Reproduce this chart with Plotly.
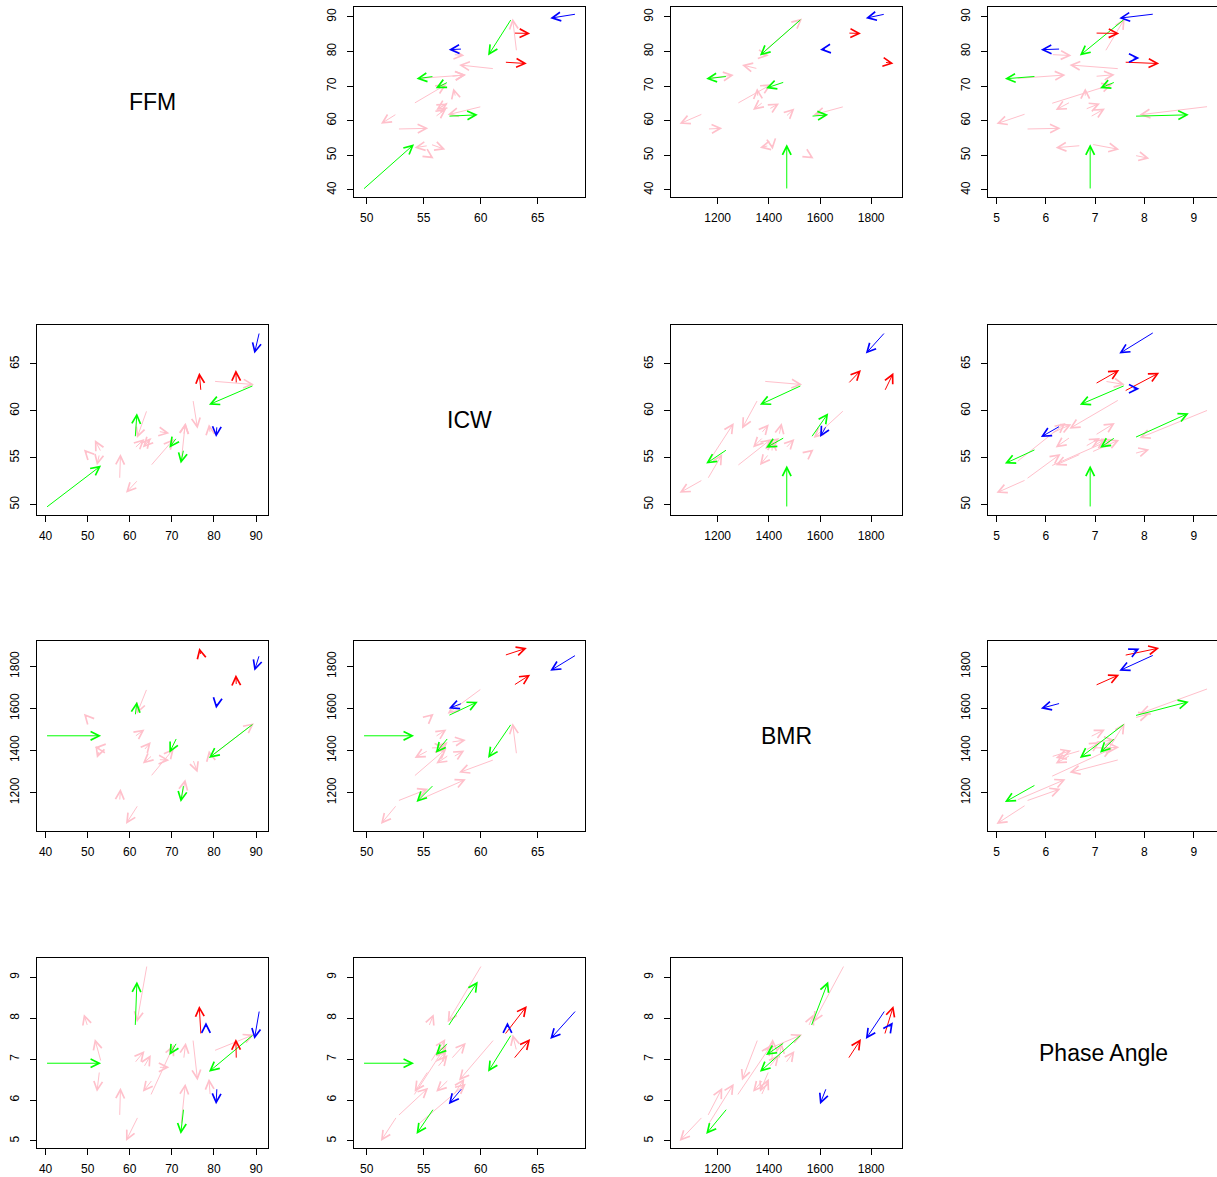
import plotly.graph_objects as go

# ---------------- data (before -> after for each subject) ----------------
var_names = ["FFM", "ICW", "BMR", "Phase Angle"]
group_color = ["pink"] * 16 + ["green"] * 5 + ["red"] * 2 + ["blue"] * 3

ffm_before = [64.1, 50.0, 53.2, 52.8, 57.6, 62.0, 61.1, 63.3, 65.4, 64.9, 66.8, 72.8, 72.2, 79.9, 75.0, 79.1,
              40.0, 89.5, 61.3, 71.2, 72.8,
              76.9, 85.3,
              90.8, 80.7, 78.1]
ffm_after = [61.7, 49.1, 51.7, 52.2, 57.8, 59.1, 63.5, 65.0, 63.1, 70.5, 69.4, 73.3, 73.2, 89.5, 76.1, 78.8,
             53.2, 78.8, 61.7, 69.4, 72.1,
             76.5, 85.2,
             89.6, 80.5, 78.1]
icw_before = [60.1, 55.45, 55.6, 55.4, 52.7, 52.65, 56.0, 56.2, 57.2, 54.1, 57.8, 57.4, 54.5, 63.15, 61.2, 57.6,
              49.64, 62.72, 57.13, 57.17, 55.9,
              62.08, 62.87,
              68.4, 58.4, 62.35]
icw_after = [57.1, 55.88, 56.9, 54.2, 55.4, 51.25, 57.0, 57.1, 56.1, 57.0, 57.6, 58.7, 58.7, 62.8, 58.1, 58.57,
             54.16, 60.65, 59.75, 56.06, 54.37,
             64.05, 64.34,
             66.1, 57.2, 62.35]
bmr_before = [1695, 1555, 1412, 1400, 1160, 1142, 1465, 1400, 1378, 1275, 1357, 1440, 1163, 1380, 1357, 1370,
              1470, 1529, 1565, 1462, 1238,
              1852, 1709,
              1855, 1625, 1868]
bmr_after = [1575, 1575, 1415, 1365, 1218, 1051, 1500, 1440, 1338, 1410, 1354, 1450, 1263, 1530, 1295, 1400,
             1470, 1365, 1632, 1389, 1155,
             1887, 1760,
             1779, 1600, 1885]
pa_before = [9.3, 7.8, 6.93, 6.71, 5.6, 5.6, 6.9, 6.8, 6.5, 6.1, 6.8, 7.0, 5.4, 7.2, 7.49, 6.11,
             6.9, 7.61, 7.8, 7.41, 5.8,
             7.59, 7.0,
             8.2, 6.3, 7.75]
pa_after = [7.9, 8.1, 7.49, 6.2, 6.3, 5.0, 7.2, 7.1, 6.2, 7.35, 6.8, 7.4, 6.4, 7.6, 6.48, 6.52,
            6.9, 6.69, 8.9, 7.1, 5.17,
            8.3, 7.49,
            7.49, 5.9, 7.9]

ffm_ticks = [40, 50, 60, 70, 80, 90]
icw_ticks = [50, 55, 60, 65]
bmr_ticks = [1200, 1400, 1600, 1800]
pa_ticks = [5, 6, 7, 8, 9]

# ---------------- styling ----------------
colors = {"pink": "#FFC0CB", "green": "#00FF00", "red": "#FF0000", "blue": "#0000FF"}
before = [ffm_before, icw_before, bmr_before, pa_before]
after = [ffm_after, icw_after, bmr_after, pa_after]
ticks = [ffm_ticks, icw_ticks, bmr_ticks, pa_ticks]


def padded_range(a, b):
    lo = min(min(a), min(b))
    hi = max(max(a), max(b))
    pad = 0.04 * (hi - lo)
    return [lo - pad, hi + pad]


ranges = [padded_range(before[v], after[v]) for v in range(4)]

W, H = 1217, 1177
col_left = [37, 354, 671, 988]
row_top = [7, 325, 641, 958]
pw, ph = 231, 190
FONT = "Liberation Sans, Arial, Helvetica, sans-serif"

fig = go.Figure()
layout_axes = {}
annotations = []
n = 0
N = len(group_color)
for i in range(4):
    for j in range(4):
        if i == j:
            annotations.append(dict(
                text=var_names[i], xref="paper", yref="paper",
                x=(col_left[j] + pw / 2) / W, y=1 - (row_top[i] + ph / 2) / H,
                showarrow=False, xanchor="center", yanchor="middle",
                font=dict(family=FONT, size=23, color="black")))
            continue
        n += 1
        sfx = "" if n == 1 else str(n)
        xref, yref = "x" + sfx, "y" + sfx
        axis_common = dict(showline=True, mirror=True, linecolor="black", linewidth=1,
                           ticks="outside", ticklen=6, tickwidth=1, tickcolor="black",
                           showgrid=False, zeroline=False,
                           tickfont=dict(family=FONT, size=12, color="black"))
        layout_axes["xaxis" + sfx] = dict(
            domain=[col_left[j] / W, min(1.0, (col_left[j] + pw) / W)],
            range=ranges[j], tickvals=ticks[j], anchor=yref,
            ticklabelstandoff=4, **axis_common)
        layout_axes["yaxis" + sfx] = dict(
            domain=[1 - (row_top[i] + ph) / H, 1 - row_top[i] / H],
            range=ranges[i], tickvals=ticks[i], anchor=xref, tickangle=-90,
            ticklabelstandoff=6, **axis_common)
        fig.add_trace(go.Scatter(
            x=before[j] + after[j], y=before[i] + after[i], mode="markers",
            marker=dict(opacity=0, size=1), xaxis=xref, yaxis=yref,
            hoverinfo="skip", showlegend=False))
        for k in range(N):
            x0, y0 = before[j][k], before[i][k]
            x1, y1 = after[j][k], after[i][k]
            if x0 == x1 and y0 == y1:
                continue
            annotations.append(dict(
                x=x1, y=y1, ax=x0, ay=y0, xref=xref, yref=yref, axref=xref, ayref=yref,
                text="", showarrow=True, arrowhead=5, arrowsize=1.7, arrowwidth=1,
                arrowcolor=colors[group_color[k]], standoff=0, startstandoff=0))

fig.update_layout(width=W, height=H, margin=dict(l=0, r=0, t=0, b=0),
                  paper_bgcolor="white", plot_bgcolor="white", showlegend=False,
                  annotations=annotations, font=dict(family=FONT, size=12, color="black"),
                  **layout_axes)
fig.write_html("out.html", config={"displayModeBar": False, "staticPlot": True})

# remove the browser's default page margin so the figure sits at the top-left corner
with open("out.html", "r", encoding="utf-8") as fh:
    html = fh.read()
html = html.replace("<head>", "<head><style>html,body{margin:0;padding:0;overflow:hidden;}</style>", 1)
with open("out.html", "w", encoding="utf-8") as fh:
    fh.write(html)
